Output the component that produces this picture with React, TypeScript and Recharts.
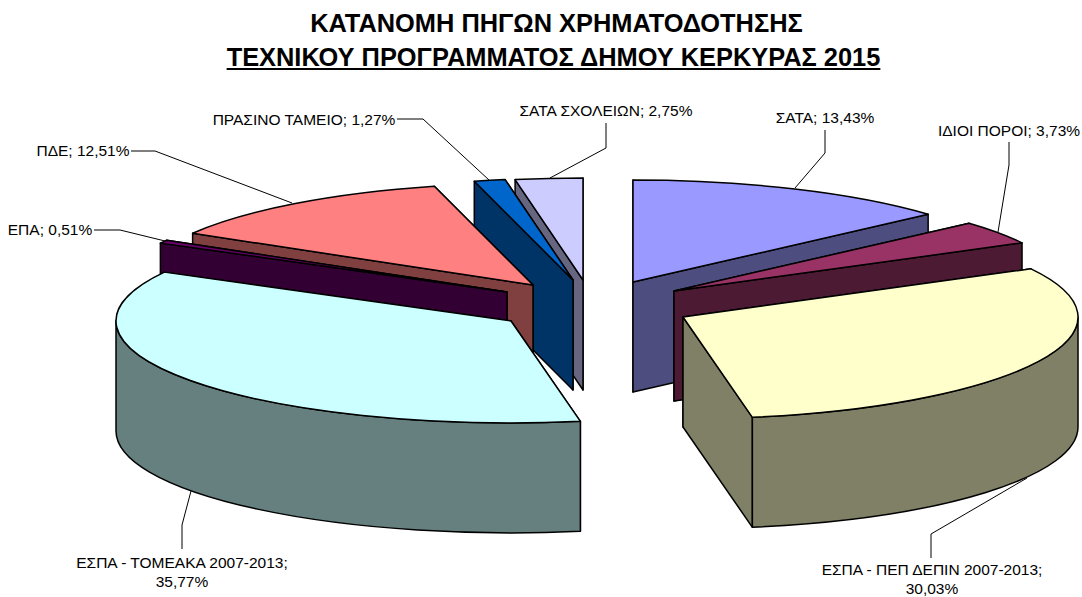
import { Pie, PieChart } from "recharts";

const names = [
  "ΣΑΤΑ",
  "ΙΔΙΟΙ ΠΟΡΟΙ",
  "ΕΣΠΑ - ΠΕΠ ΔΕΠΙΝ 2007-2013",
  "ΕΣΠΑ - ΤΟΜΕΑΚΑ 2007-2013",
  "ΕΠΑ",
  "ΠΔΕ",
  "ΠΡΑΣΙΝΟ ΤΑΜΕΙΟ",
  "ΣΑΤΑ ΣΧΟΛΕΙΩΝ",
];
const values = [13.43, 3.73, 30.03, 35.77, 0.51, 12.51, 1.27, 2.75];
const topColors = ["#9999FF", "#993366", "#FFFFCC", "#CCFFFF", "#660066", "#FF8080", "#0066CC", "#CCCCFF"];
const sideColors = ["#4D4D80", "#4D1A33", "#808066", "#668080", "#330033", "#804040", "#003366", "#666680"];

// exploded slice apex, relative to the pie centre
const explode = [
  [33, -18],
  [74, -9],
  [83, 17],
  [-89, 21],
  [-93, -8],
  [-67, -15],
  [-27, -20],
  [-17, -20],
];
// back to front
const paintOrder = [0, 1, 2, 7, 6, 5, 4, 3];

const labelLines = [
  ["ΣΑΤΑ; 13,43%"],
  ["ΙΔΙΟΙ ΠΟΡΟΙ; 3,73%"],
  ["ΕΣΠΑ - ΠΕΠ ΔΕΠΙΝ 2007-2013;", "30,03%"],
  ["ΕΣΠΑ - ΤΟΜΕΑΚΑ 2007-2013;", "35,77%"],
  ["ΕΠΑ; 0,51%"],
  ["ΠΔΕ; 12,51%"],
  ["ΠΡΑΣΙΝΟ ΤΑΜΕΙΟ; 1,27%"],
  ["ΣΑΤΑ ΣΧΟΛΕΙΩΝ; 2,75%"],
];
const labelPos = [
  [825, 123],
  [1009, 136],
  [932, 575],
  [182, 568],
  [50, 235],
  [83, 156],
  [304, 125],
  [606, 116],
];
const leaders = [
  "825,130 825,153 795,188",
  "1009,142 1009,165 998,232",
  "931,558 931,534 1027,478",
  "182,549 182,525 191,491",
  "94,230 120,230 165,241",
  "131,151 155,151 292,203",
  "397,119 423,119 489,180",
  "606,123 606,148 550,178",
];

const tableData = names.map((name, i) => ({ name, value: values[i] }));

const CX = 600;
const CY = 300;
const RADIUS = 395;
const SQUASH = 0.258;
const DEPTH = 110;

function slice3d(idx: number) {
  return function SliceShape(props: any) {
    if (props.index !== idx) return <g />;
    const { cx, cy, outerRadius: r, startAngle, endAngle } = props;
    const ox = cx + explode[idx][0];
    const oy = cy + explode[idx][1];
    const ry = r * SQUASH;
    // angles clockwise from 12 o'clock
    const a0 = 90 - startAngle;
    const a1 = 90 - endAngle;
    const pt = (a: number, dz = 0) => {
      const t = (a * Math.PI) / 180;
      return [ox + r * Math.sin(t), oy - ry * Math.cos(t) + dz];
    };
    const arc = (from: number, to: number, sweep: number, dz = 0) => {
      const [x, y] = pt(to, dz);
      return `A${r} ${ry} 0 ${Math.abs(to - from) > 180 ? 1 : 0} ${sweep} ${x} ${y}`;
    };
    const radial = (a: number) => {
      const [x, y] = pt(a);
      return `M${ox} ${oy}L${x} ${y}L${x} ${y + DEPTH}L${ox} ${oy + DEPTH}Z`;
    };
    const faces = [a0, a1].sort((p, q) => pt(p)[1] - pt(q)[1]);
    const rimFrom = Math.max(a0, 90);
    const rimTo = Math.min(a1, 270);
    const common = { stroke: "#000", strokeWidth: 1.5, strokeLinejoin: "round" as const };
    const [sx, sy] = pt(a0);
    const [rx0, ry0] = pt(rimFrom);
    return (
      <g>
        {faces.map((a) => (
          <path key={a} d={radial(a)} fill={sideColors[idx]} {...common} />
        ))}
        {rimTo > rimFrom && (
          <path
            d={`M${rx0} ${ry0}${arc(rimFrom, rimTo, 1)}L${pt(rimTo, DEPTH)[0]} ${pt(rimTo, DEPTH)[1]}${arc(rimTo, rimFrom, 0, DEPTH)}Z`}
            fill={sideColors[idx]}
            {...common}
          />
        )}
        <path d={`M${ox} ${oy}L${sx} ${sy}${arc(a0, a1, 1)}Z`} fill={topColors[idx]} {...common} />
      </g>
    );
  };
}

function renderLabel(props: any) {
  const i = props.index;
  const [x, y] = labelPos[i];
  return (
    <g key={i}>
      <polyline points={leaders[i]} fill="none" stroke="#000" strokeWidth={1} />
      {labelLines[i].map((line, k) => (
        <text
          key={k}
          x={x}
          y={y + k * 19}
          textAnchor="middle"
          fontFamily="Liberation Sans"
          fontSize={15.5}
          fill="#000"
        >
          {line}
        </text>
      ))}
    </g>
  );
}

export default function App() {
  return (
    <div style={{ position: "absolute", left: 0, top: 0, width: 1082, height: 597, background: "#fff" }}>
      <div
        style={{
          position: "absolute",
          left: 0,
          top: 6,
          width: 1107,
          textAlign: "center",
          fontFamily: "Liberation Sans",
          fontWeight: "bold",
          fontSize: 25.4,
          lineHeight: "34px",
          color: "#000",
        }}
      >
        <div style={{ position: "relative", left: 3 }}>ΚΑΤΑΝΟΜΗ ΠΗΓΩΝ ΧΡΗΜΑΤΟΔΟΤΗΣΗΣ</div>
        <div style={{ textDecoration: "underline" }}>ΤΕΧΝΙΚΟΥ ΠΡΟΓΡΑΜΜΑΤΟΣ ΔΗΜΟΥ ΚΕΡΚΥΡΑΣ 2015</div>
      </div>
      <PieChart width={1082} height={597} margin={{ top: 0, right: 0, bottom: 0, left: 0 }}>
        {paintOrder.map((idx) => (
          <Pie
            key={idx}
            data={tableData}
            dataKey="value"
            nameKey="name"
            cx={CX}
            cy={CY}
            outerRadius={RADIUS}
            startAngle={90}
            endAngle={-270}
            shape={slice3d(idx)}
            isAnimationActive={false}
          />
        ))}
        <Pie
          data={tableData}
          dataKey="value"
          nameKey="name"
          cx={CX}
          cy={CY}
          outerRadius={RADIUS}
          startAngle={90}
          endAngle={-270}
          shape={() => <g />}
          label={renderLabel}
          labelLine={false}
          isAnimationActive={false}
        />
      </PieChart>
    </div>
  );
}
